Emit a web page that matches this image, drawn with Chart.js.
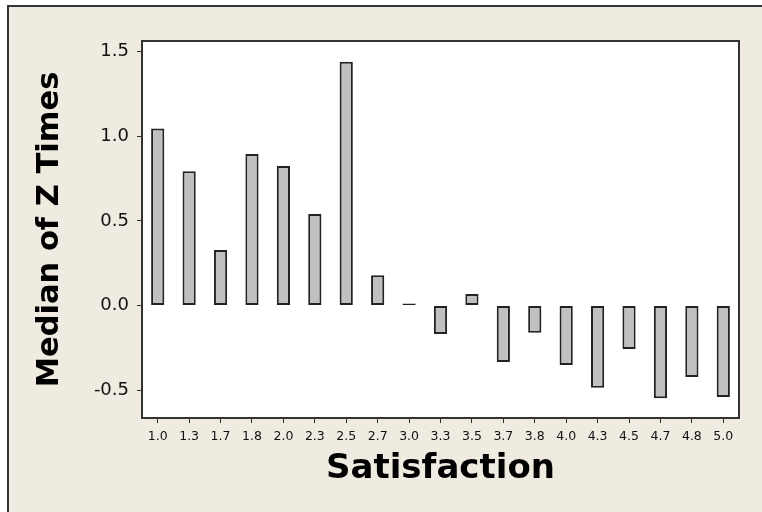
<!DOCTYPE html>
<html>
<head>
<meta charset="utf-8">
<script src="https://cdn.jsdelivr.net/npm/chart.js@4.4.1/dist/chart.umd.min.js"></script>
<style>
  html, body { margin: 0; padding: 0; background: #ffffff; overflow: hidden; }
  #frame { position: absolute; left: 7px; top: 5px; width: 800px; height: 600px;
           border: 2px solid #333; background: #efebe1; }
  #myChart { position: absolute; left: 0; top: 0; }
</style>
</head>
<body>
<div id="frame"></div>
<canvas id="myChart" width="762" height="512"></canvas>
<script>
// Median of Z Times by Satisfaction level

const categories = ['1.0', '1.3', '1.7', '1.8', '2.0', '2.3', '2.5', '2.7', '3.0', '3.3',
                    '3.5', '3.7', '3.8', '4.0', '4.3', '4.5', '4.7', '4.8', '5.0'];
const medianZ = [1.046, 0.794, 0.329, 0.896, 0.825, 0.541, 1.44, 0.179, 0.012, -0.168,
                 0.069, -0.333, -0.16, -0.351, -0.485, -0.256, -0.548, -0.422, -0.54];

const yMin = -0.664;
const yMax = 1.563;

const ctx = document.getElementById('myChart');

// white plot area with a dark box round it
const plotBox = {
    id: 'plotBox',
    beforeDraw(chart) {
        const a = chart.chartArea;
        chart.ctx.save();
        chart.ctx.fillStyle = '#ffffff';
        chart.ctx.fillRect(a.left, a.top, a.right - a.left, a.bottom - a.top);
        chart.ctx.restore();
    },
    afterDraw(chart) {
        const a = chart.chartArea;
        const c = chart.ctx;
        c.save();
        c.strokeStyle = '#333';
        c.lineWidth = 2;
        c.strokeRect(a.left, a.top, a.right - a.left, a.bottom - a.top);
        c.restore();
    }
};

const chart = new Chart(ctx, {
    type: 'bar',
    data: {
        labels: categories,
        datasets: [{
            data: medianZ,
            backgroundColor: '#c0c0c0',
            borderColor: '#222',
            borderWidth: 2,
            borderSkipped: false,
            barPercentage: 0.42,
            categoryPercentage: 1.0
        }]
    },
    options: {
        responsive: false,
        animation: false,
        devicePixelRatio: 1,
        layout: {
            padding: { top: 41, right: 23, left: 0, bottom: 0 }
        },
        plugins: {
            legend: { display: false },
            tooltip: { enabled: false }
        },
        scales: {
            x: {
                offset: true,
                grid: {
                    offset: false,
                    drawOnChartArea: false,
                    drawTicks: true,
                    tickLength: 5,
                    color: '#333'
                },
                border: { display: false },
                ticks: {
                    color: '#111',
                    padding: 6,
                    maxRotation: 0,
                    autoSkip: false,
                    font: { family: 'DejaVu Sans', size: 12.5 }
                },
                title: {
                    display: true,
                    text: 'Satisfaction',
                    color: '#000',
                    padding: { top: 0, bottom: 22 },
                    font: { family: 'DejaVu Sans', size: 34, weight: 'bold' }
                },
                afterFit: (scale) => { scale.height = 94; }
            },
            y: {
                min: yMin,
                max: yMax,
                grid: {
                    drawOnChartArea: false,
                    drawTicks: true,
                    tickLength: 5,
                    color: '#333'
                },
                border: { display: false },
                ticks: {
                    stepSize: 0.5,
                    includeBounds: false,
                    color: '#111',
                    padding: 8,
                    font: { family: 'DejaVu Sans', size: 18 },
                    callback: (v) => v.toFixed(1)
                },
                title: {
                    display: true,
                    text: 'Median of Z Times',
                    color: '#000',
                    padding: { top: 32, bottom: 0 },
                    font: { family: 'DejaVu Sans', size: 30.5, weight: 'bold' }
                },
                afterFit: (scale) => { scale.width = 142; }
            }
        }
    },
    plugins: [plotBox]
});
</script>
</body>
</html>
